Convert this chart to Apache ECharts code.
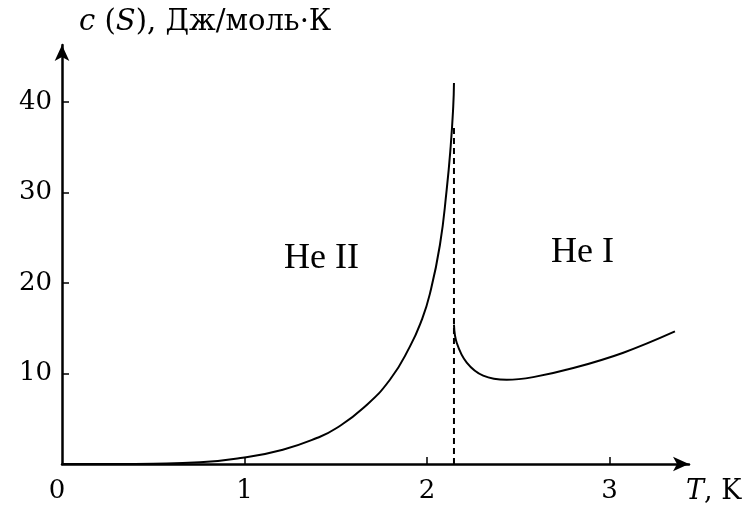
<!DOCTYPE html>
<html>
<head>
<meta charset="utf-8">
<script src="https://cdn.jsdelivr.net/npm/echarts@6/dist/echarts.min.js"></script>
<style>
  html, body { margin: 0; padding: 0; background: #fff; }
  #chart { width: 743px; height: 507px; }
</style>
</head>
<body>
<div id="chart"></div>
<script>
// Heat capacity of liquid helium near the lambda point
// Superfluid branch (He II): [T, c]
const heIIData = [
  [0, 0], [0.3, 0], [0.5, 0.03], [0.756, 0.18], [0.99, 0.7], [1.21, 1.58],
  [1.40, 2.9], [1.505, 3.98], [1.651, 6.19], [1.797, 9.31], [1.907, 13.0],
  [1.971, 15.9], [2.016, 18.8], [2.071, 24.2], [2.108, 30.3], [2.130, 35.1],
  [2.144, 39.5], [2.148, 42.1]
];
// Normal branch (He I): [T, c]
const heIData = [
  [2.148, 15.4], [2.163, 13.4], [2.218, 11.2], [2.308, 9.76], [2.437, 9.3],
  [2.582, 9.6], [2.802, 10.6], [3.076, 12.3], [3.359, 14.65]
];
// Lambda transition marker
const lambdaLine = [[2.148, 0], [2.148, 37.3]];
const xTickValues = [0, 1, 2, 3];
const yTickValues = [10, 20, 30, 40];
const regionNames = ['He II', 'He I'];

const chart = echarts.init(document.getElementById('chart'), null, { renderer: 'canvas' });
const serif = 'DejaVu Serif';
const times = 'Liberation Serif';

chart.setOption({
  animation: false,
  backgroundColor: '#fff',
  title: [
    {
      left: 74, top: 3,
      text: '{i|c} ({i|S}), Дж/моль·К',
      textStyle: {
        fontFamily: serif, fontSize: 29, fontWeight: 'normal', color: '#000',
        rich: { i: { fontFamily: serif, fontStyle: 'italic', fontSize: 29, color: '#000' } }
      }
    },
    {
      left: 681, top: 473,
      text: '{i|T}, K',
      textStyle: {
        fontFamily: serif, fontSize: 27, fontWeight: 'normal', color: '#000',
        rich: { i: { fontFamily: serif, fontStyle: 'italic', fontSize: 27, color: '#000' } }
      }
    },
    {
      left: 279, top: 236, text: regionNames[0],
      textStyle: { fontFamily: times, fontSize: 36, fontWeight: 'normal', color: '#000' }
    },
    {
      left: 546, top: 230, text: regionNames[1],
      textStyle: { fontFamily: times, fontSize: 36, fontWeight: 'normal', color: '#000' }
    }
  ],
  grid: { left: 62, right: 54, top: 45, bottom: 43, containLabel: false },
  xAxis: {
    type: 'value', min: 0, max: 3.436,
    splitLine: { show: false },
    axisLine: { lineStyle: { color: '#000', width: 2.5 }, symbol: ['none', 'arrow'], symbolSize: [11, 16] },
    axisTick: { inside: true, length: 7, lineStyle: { color: '#000', width: 1.5 }, customValues: [1, 2, 3] },
    axisLabel: {
      customValues: xTickValues, margin: 14, color: '#000', fontFamily: serif, fontSize: 26,
      formatter: v => v === 0 ? '{z|0}' : String(v),
      rich: { z: { fontFamily: serif, fontSize: 26, color: '#000', padding: [0, 10, 0, 0] } }
    }
  },
  yAxis: {
    type: 'value', min: 0, max: 46.3,
    splitLine: { show: false },
    axisLine: { lineStyle: { color: '#000', width: 2.5 }, symbol: ['none', 'arrow'], symbolSize: [11, 16] },
    axisTick: { inside: true, length: 7, lineStyle: { color: '#000', width: 1.5 }, customValues: yTickValues },
    axisLabel: { customValues: yTickValues, margin: 10, color: '#000', fontFamily: serif, fontSize: 26 }
  },
  series: [
    {
      type: 'line', data: heIIData, showSymbol: false, smooth: 0.5,
      lineStyle: { color: '#000', width: 2 }
    },
    {
      type: 'line', data: heIData, showSymbol: false, smooth: 0.4,
      lineStyle: { color: '#000', width: 2 }
    },
    {
      type: 'line', data: lambdaLine, showSymbol: false,
      lineStyle: { color: '#000', width: 2, type: [6, 4] }
    }
  ]
});
</script>
</body>
</html>
